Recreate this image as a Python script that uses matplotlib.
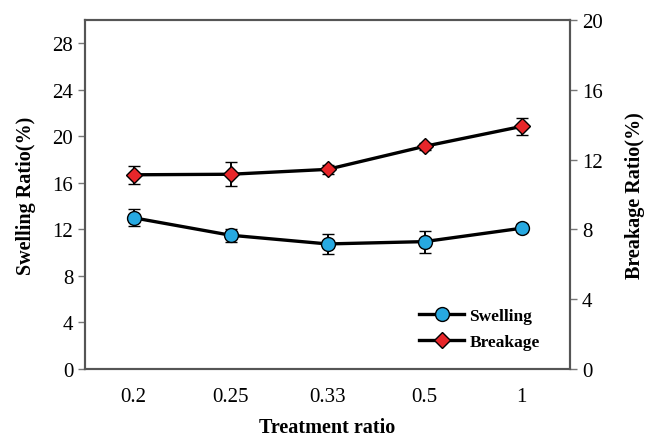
import matplotlib
matplotlib.use("Agg")
import matplotlib.pyplot as plt

plt.rcParams['font.family'] = ['Liberation Serif', 'DejaVu Serif']

ratios = ['0.2', '0.25', '0.33', '0.5', '1']
swelling = [13.0, 11.5, 10.75, 10.95, 12.1]
swelling_err = [0.73, 0.55, 0.86, 0.95, 0.35]
breakage = [11.13, 11.16, 11.44, 12.76, 13.9]
breakage_err = [0.52, 0.68, 0.27, 0.2, 0.5]

fig = plt.figure(figsize=(6.49, 4.39), dpi=100)
ax = fig.add_axes([85 / 649, 1 - 370 / 439, 485 / 649, 349 / 439])
ax2 = ax.twinx()

x = list(range(len(ratios)))
h1 = ax.errorbar(x, swelling, yerr=swelling_err, color='black', lw=2.4,
                 marker='o', ms=10, mfc='#27a9e1', mec='black', mew=1,
                 capsize=4, elinewidth=1.4, capthick=1.4, label='Swelling')
h2 = ax2.errorbar(x, breakage, yerr=breakage_err, color='black', lw=2.4,
                  marker='D', ms=8.5, mfc='#e8262a', mec='black', mew=1,
                  capsize=4, elinewidth=1.4, capthick=1.4, label='Breakage')

ax.set_xlim(-0.5, 4.5)
ax.set_ylim(0, 30)
ax2.set_ylim(0, 20)
ax.set_yticks(range(0, 29, 4))
ax2.set_yticks(range(0, 21, 4))
ax.set_xticks(x)
ax.set_xticklabels(ratios)

for a in (ax, ax2):
    for s in a.spines.values():
        s.set_color('#555555')
        s.set_linewidth(1.5)
    a.tick_params(labelsize=15, color='#777777', length=5, width=1)
ax.tick_params(axis='x', length=0, pad=13)

ax.set_xlabel('Treatment ratio', fontsize=14.5, fontweight='bold', labelpad=8)
ax.set_ylabel('Swelling Ratio(%)', fontsize=14.5, fontweight='bold', labelpad=12)
ax2.set_ylabel('Breakage Ratio(%)', fontsize=14.5, fontweight='bold', labelpad=16)

leg = ax2.legend([h1[0], h2[0]], ['Swelling', 'Breakage'], loc='lower right',
                 bbox_to_anchor=(0.97, 0.01), frameon=False,
                 prop={'weight': 'bold', 'size': 12.5}, handlelength=2.6,
                 handletextpad=0.3, labelspacing=0.55)

fig.savefig('out.png', dpi=100)
